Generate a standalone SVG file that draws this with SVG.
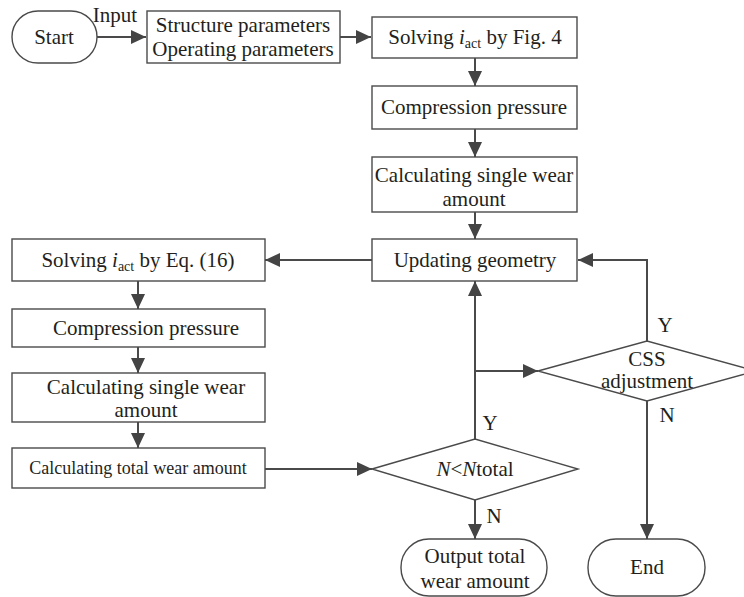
<svg xmlns="http://www.w3.org/2000/svg" width="744" height="597" viewBox="0 0 744 597">
<style>
.box{fill:#fff;stroke:#4a4a4a;stroke-width:1.4}
.ln{fill:none;stroke:#4a4a4a;stroke-width:2}
text{font-family:"Liberation Serif","Times New Roman",serif;font-size:21px;fill:#231f20;text-anchor:middle}
.sm{font-size:18px}
.sub{font-size:14px}
</style>
<defs>
<marker id="ah" markerUnits="userSpaceOnUse" markerWidth="16" markerHeight="14" refX="15" refY="7" orient="auto">
<path d="M0,0 L15,7 L0,14 z" fill="#444"/>
</marker>
</defs>
<g id="connectors">
<path class="ln" d="M97,37 H146" marker-end="url(#ah)"/>
<path class="ln" d="M340,37 H371" marker-end="url(#ah)"/>
<path class="ln" d="M475,58 V86" marker-end="url(#ah)"/>
<path class="ln" d="M475,129 V157" marker-end="url(#ah)"/>
<path class="ln" d="M475,212 V239" marker-end="url(#ah)"/>
<path class="ln" d="M372,260 H265" marker-end="url(#ah)"/>
<path class="ln" d="M138,281 V309" marker-end="url(#ah)"/>
<path class="ln" d="M138,347 V373" marker-end="url(#ah)"/>
<path class="ln" d="M138,422 V448" marker-end="url(#ah)"/>
<path class="ln" d="M265,469 H372" marker-end="url(#ah)"/>
<path class="ln" d="M475,439 V281" marker-end="url(#ah)"/>
<path class="ln" d="M475,371 H538" marker-end="url(#ah)"/>
<path class="ln" d="M647,341 V260 H578" marker-end="url(#ah)"/>
<path class="ln" d="M647,401 V539" marker-end="url(#ah)"/>
<path class="ln" d="M475,500 V539" marker-end="url(#ah)"/>
<text x="115" y="22">Input</text>
<text x="665" y="332">Y</text>
<text x="667" y="422">N</text>
<text x="490" y="430">Y</text>
<text x="494" y="523">N</text>
</g>
<g id="start">
<rect class="box" x="12" y="11" width="85" height="52" rx="26"/>
<text x="54" y="44">Start</text>
</g>
<g id="params">
<rect class="box" x="147" y="11" width="193" height="52"/>
<text x="243" y="32">Structure parameters</text>
<text x="243" y="56">Operating parameters</text>
</g>
<g id="solve1">
<rect class="box" x="372" y="17" width="205" height="41"/>
<text x="475" y="44">Solving <tspan font-style="italic">i</tspan><tspan class="sub" dy="4">act</tspan><tspan dy="-4"> by Fig. 4</tspan></text>
</g>
<g id="comp1">
<rect class="box" x="372" y="86" width="205" height="43"/>
<text x="474" y="114">Compression pressure</text>
</g>
<g id="calc1">
<rect class="box" x="372" y="157" width="205" height="55"/>
<text x="474" y="182">Calculating single wear</text>
<text x="474" y="206">amount</text>
</g>
<g id="update">
<rect class="box" x="372" y="239" width="205" height="42"/>
<text x="475" y="267">Updating geometry</text>
</g>
<g id="solve2">
<rect class="box" x="12" y="239" width="253" height="42"/>
<text x="138" y="267">Solving <tspan font-style="italic">i</tspan><tspan class="sub" dy="4">act</tspan><tspan dy="-4"> by Eq. (16)</tspan></text>
</g>
<g id="comp2">
<rect class="box" x="12" y="309" width="253" height="38"/>
<text x="146" y="335">Compression pressure</text>
</g>
<g id="calc2">
<rect class="box" x="12" y="373" width="253" height="49"/>
<text x="146" y="394">Calculating single wear</text>
<text x="146" y="417">amount</text>
</g>
<g id="total">
<rect class="box" x="12" y="448" width="253" height="40"/>
<text class="sm" x="138" y="474">Calculating total wear amount</text>
</g>
<g id="ncheck">
<polygon class="box" points="372,469 475,439 578,469 475,500"/>
<text x="475" y="476"><tspan font-style="italic">N</tspan>&lt;<tspan font-style="italic">N</tspan>total</text>
</g>
<g id="css">
<polygon class="box" points="538,371 647,341 756,371 647,401"/>
<text x="647" y="366">CSS</text>
<text x="647" y="388">adjustment</text>
</g>
<g id="output">
<rect class="box" x="401" y="539" width="146" height="57" rx="28"/>
<text x="475" y="563">Output total</text>
<text x="475" y="588">wear amount</text>
</g>
<g id="end">
<rect class="box" x="588" y="539" width="117" height="57" rx="28"/>
<text x="647" y="574">End</text>
</g>
</svg>
